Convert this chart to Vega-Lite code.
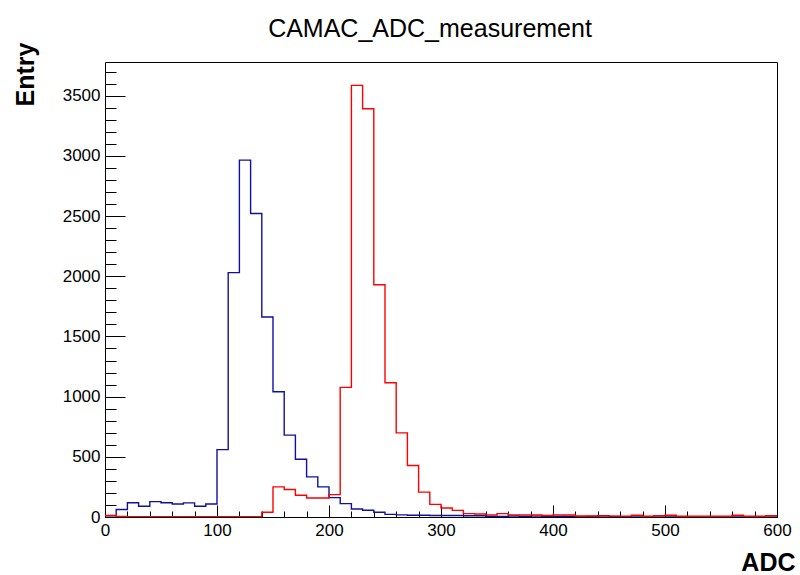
{
  "$schema": "https://vega.github.io/schema/vega-lite/v6.json",
  "autosize": {"type": "none"},
  "padding": {"left": 105, "top": 62, "right": 23, "bottom": 58},
  "width": 672,
  "height": 455,
  "background": "white",
  "config": {"view": {"stroke": "black", "strokeWidth": 1}},
  "title": {"text": "CAMAC_ADC_measurement", "font": "Liberation Sans", "fontSize": 25, "fontWeight": "normal", "color": "black", "anchor": "middle", "dx": -11, "dy": 23, "baseline": "alphabetic", "offset": 3},
  "data": {"values": [
    {"adc": 0, "blue": 10, "red": 12},
    {"adc": 10, "blue": 62, "red": 5},
    {"adc": 20, "blue": 118, "red": 3},
    {"adc": 30, "blue": 89, "red": 2},
    {"adc": 40, "blue": 128, "red": 2},
    {"adc": 50, "blue": 118, "red": 2},
    {"adc": 60, "blue": 108, "red": 2},
    {"adc": 70, "blue": 117, "red": 2},
    {"adc": 80, "blue": 89, "red": 2},
    {"adc": 90, "blue": 108, "red": 2},
    {"adc": 100, "blue": 560, "red": 2},
    {"adc": 110, "blue": 2030, "red": 2},
    {"adc": 120, "blue": 2965, "red": 2},
    {"adc": 130, "blue": 2521, "red": 2},
    {"adc": 140, "blue": 1661, "red": 39},
    {"adc": 150, "blue": 1040, "red": 250},
    {"adc": 160, "blue": 680, "red": 228},
    {"adc": 170, "blue": 480, "red": 181},
    {"adc": 180, "blue": 333, "red": 158},
    {"adc": 190, "blue": 250, "red": 158},
    {"adc": 200, "blue": 161, "red": 186},
    {"adc": 210, "blue": 111, "red": 1077},
    {"adc": 220, "blue": 67, "red": 3586},
    {"adc": 230, "blue": 56, "red": 3391},
    {"adc": 240, "blue": 39, "red": 1930},
    {"adc": 250, "blue": 22, "red": 1115},
    {"adc": 260, "blue": 18, "red": 699},
    {"adc": 270, "blue": 14, "red": 428},
    {"adc": 280, "blue": 14, "red": 207},
    {"adc": 290, "blue": 13, "red": 105},
    {"adc": 300, "blue": 12, "red": 75},
    {"adc": 310, "blue": 12, "red": 55},
    {"adc": 320, "blue": 10, "red": 28},
    {"adc": 330, "blue": 10, "red": 25},
    {"adc": 340, "blue": 6, "red": 18},
    {"adc": 350, "blue": 5, "red": 28},
    {"adc": 360, "blue": 8, "red": 18},
    {"adc": 370, "blue": 6, "red": 18},
    {"adc": 380, "blue": 7, "red": 16},
    {"adc": 390, "blue": 5, "red": 12},
    {"adc": 400, "blue": 6, "red": 18},
    {"adc": 410, "blue": 5, "red": 16},
    {"adc": 420, "blue": 3, "red": 8},
    {"adc": 430, "blue": 4, "red": 8},
    {"adc": 440, "blue": 10, "red": 8},
    {"adc": 450, "blue": 4, "red": 7},
    {"adc": 460, "blue": 3, "red": 7},
    {"adc": 470, "blue": 7, "red": 15},
    {"adc": 480, "blue": 3, "red": 6},
    {"adc": 490, "blue": 9, "red": 8},
    {"adc": 500, "blue": 8, "red": 15},
    {"adc": 510, "blue": 3, "red": 6},
    {"adc": 520, "blue": 3, "red": 6},
    {"adc": 530, "blue": 3, "red": 6},
    {"adc": 540, "blue": 3, "red": 6},
    {"adc": 550, "blue": 3, "red": 6},
    {"adc": 560, "blue": 8, "red": 14},
    {"adc": 570, "blue": 3, "red": 6},
    {"adc": 580, "blue": 3, "red": 6},
    {"adc": 590, "blue": 9, "red": 8},
    {"adc": 600, "blue": 9, "red": 8}
  ]},
  "resolve": {"axis": {"x": "independent", "y": "independent"}},
  "layer": [
    {
      "mark": {"type": "line", "interpolate": "step-after", "color": "#1010a0", "strokeWidth": 1.4, "clip": true},
      "encoding": {
        "x": {"field": "adc", "type": "quantitative", "scale": {"domain": [0, 600], "nice": false, "zero": false},
          "axis": {"orient": "bottom", "values": [0, 100, 200, 300, 400, 500, 600], "format": "d", "tickSize": -12, "tickColor": "black", "tickWidth": 1, "labelPadding": 17, "labelFont": "Liberation Sans", "labelFontSize": 17, "labelColor": "black", "labelFlush": false, "labelOverlap": false, "domain": false, "grid": false,
            "title": "ADC", "titleFont": "Liberation Sans", "titleFontSize": 25, "titleFontWeight": "bold", "titleColor": "black", "titleAlign": "right", "titleBaseline": "alphabetic", "titleX": 690, "titleY": 53, "titleAnchor": null}},
        "y": {"field": "blue", "type": "quantitative", "scale": {"domain": [0, 3780], "nice": false},
          "axis": {"orient": "left", "values": [0, 500, 1000, 1500, 2000, 2500, 3000, 3500], "format": "d", "tickSize": -20, "tickColor": "black", "tickWidth": 1, "labelPadding": 25, "labelFont": "Liberation Sans", "labelFontSize": 17, "labelColor": "black", "labelFlush": false, "labelOverlap": false, "domain": false, "grid": false,
            "title": "Entry", "titleFont": "Liberation Sans", "titleFontSize": 25, "titleFontWeight": "bold", "titleColor": "black", "titleAngle": 270, "titleAlign": "right", "titleBaseline": "alphabetic", "titleX": -72, "titleY": -20, "titleAnchor": null}}
      }
    },
    {
      "mark": {"type": "line", "interpolate": "step-after", "color": "#ff0000", "strokeWidth": 1.4, "clip": true},
      "encoding": {
        "x": {"field": "adc", "type": "quantitative", "scale": {"domain": [0, 600], "nice": false, "zero": false},
          "axis": {"orient": "bottom", "values": [0, 20, 40, 60, 80, 100, 120, 140, 160, 180, 200, 220, 240, 260, 280, 300, 320, 340, 360, 380, 400, 420, 440, 460, 480, 500, 520, 540, 560, 580, 600], "tickSize": -6, "tickColor": "black", "tickWidth": 1, "labels": false, "domain": false, "grid": false, "title": null}},
        "y": {"field": "red", "type": "quantitative", "scale": {"domain": [0, 3780], "nice": false},
          "axis": {"orient": "left", "values": [0, 100, 200, 300, 400, 600, 700, 800, 900, 1100, 1200, 1300, 1400, 1600, 1700, 1800, 1900, 2100, 2200, 2300, 2400, 2600, 2700, 2800, 2900, 3100, 3200, 3300, 3400, 3600, 3700], "tickSize": -11, "tickColor": "black", "tickWidth": 1, "labels": false, "domain": false, "grid": false, "title": null}}
      }
    }
  ]
}
